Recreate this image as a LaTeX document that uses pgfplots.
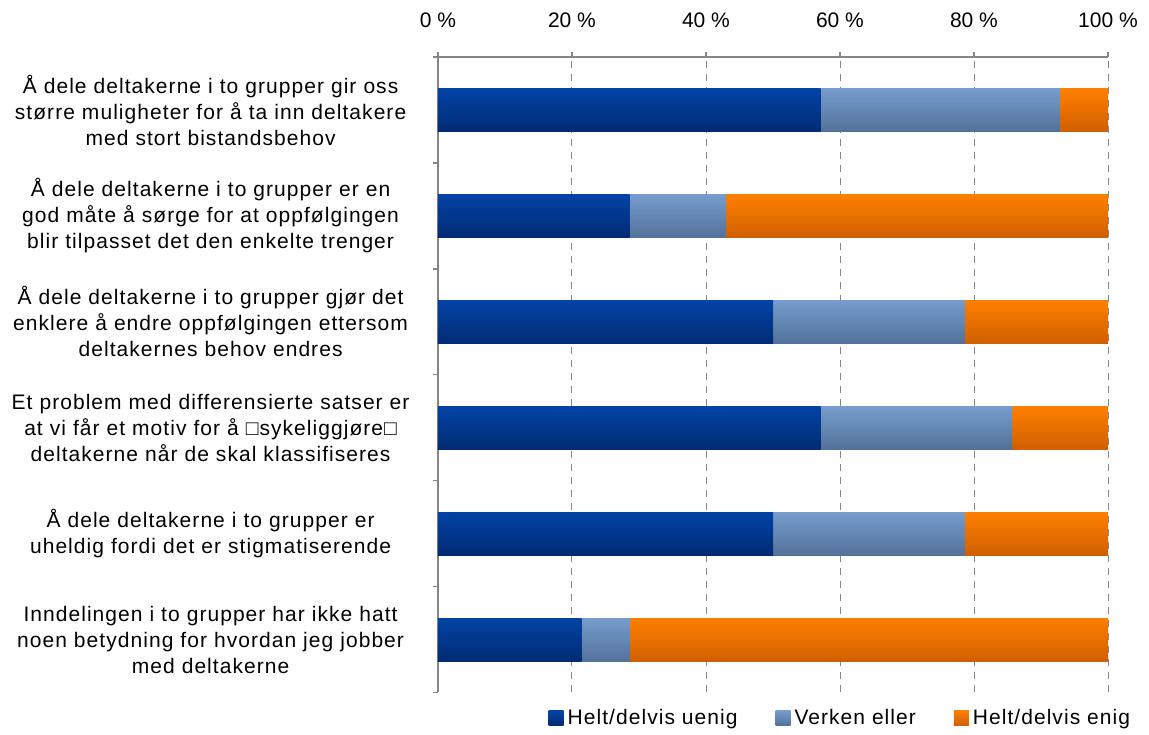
\documentclass[border=0pt]{standalone}
\usepackage{pgfplots}
\pgfplotsset{compat=1.18}
\usepackage{pgfplotstable}
\usepackage{fontspec}
\setmainfont{Liberation Sans}
\newfontfamily\lblfont{Liberation Sans}[LetterSpace=5]

\definecolor{axgray}{HTML}{868686}
\definecolor{dblueT}{HTML}{0343A6}
\definecolor{dblueB}{HTML}{002B73}
\definecolor{lblueT}{HTML}{769DCE}
\definecolor{lblueB}{HTML}{53729A}
\definecolor{orT}{HTML}{FF8000}
\definecolor{orB}{HTML}{CF5F00}

% shares in percent, first question at the top (pos 6)
\pgfplotstableread{
pos uenig verken enig
6 57.1 35.7 7.2
5 28.6 14.3 57.1
4 50.0 28.6 21.4
3 57.1 28.6 14.3
2 50.0 28.6 21.4
1 21.4 7.2 71.4
}\svar

\begin{document}
\begin{tikzpicture}
\begin{axis}[
    scale only axis,
    width=335pt, height=317.75pt,
    xbar, bar width=21.5pt,
    xmin=0, xmax=100, ymin=0.5, ymax=6.5,
    axis x line*=top, axis y line*=left,
    axis line style={axgray, line width=0.75pt},
    tick align=outside,
    major tick length=2.5pt, minor tick length=2.5pt,
    xtick={0,20,...,100},
    xticklabel={\pgfmathprintnumber{\tick} \%},
    /pgf/number format/assume math mode=true,
    xticklabel style={font=\fontsize{10.5}{13}\selectfont, inner sep=0pt, yshift=12pt},
    major x tick style={axgray, line width=0.75pt},
    xmajorgrids,
    major x grid style={axgray, line width=0.5pt, dash pattern=on 3.5pt off 3pt},
    ytick={1,...,6},
    minor ytick={0.5,1.5,...,6.5},
    major y tick style={draw=none},
    minor y tick style={axgray, line width=0.75pt},
    yticklabels={
        {Inndelingen i to grupper har ikke hatt\\noen betydning for hvordan jeg jobber\\med deltakerne},
        {Å dele deltakerne i to grupper er\\uheldig fordi det er stigmatiserende},
        {Et problem med differensierte satser er\\at vi får et motiv for å □sykeliggjøre□\\deltakerne når de skal klassifiseres},
        {Å dele deltakerne i to grupper gjør det\\enklere å endre oppfølgingen ettersom\\deltakernes behov endres},
        {Å dele deltakerne i to grupper er en\\god måte å sørge for at oppfølgingen\\blir tilpasset det den enkelte trenger},
        {Å dele deltakerne i to grupper gir oss\\større muligheter for å ta inn deltakere\\med stort bistandsbehov}
    },
    yticklabel style={font=\lblfont\fontsize{10.5}{13}\selectfont, text width=220pt, align=center, anchor=east, inner sep=0pt, xshift=-1pt},
    legend columns=3,
    legend style={at={(0.602,-0.040)}, anchor=center, draw=none, fill=none,
        font=\lblfont\fontsize{10.5}{13}\selectfont,
        /tikz/every even column/.append style={column sep=17pt}},
    legend image code/.code={\path[#1, draw=none] (0pt,-3.75pt) rectangle (7.5pt,3.75pt);},
]
\addlegendimage{top color=dblueT, bottom color=dblueB}
\addlegendentry{Helt/delvis uenig}
\addlegendimage{top color=lblueT, bottom color=lblueB}
\addlegendentry{Verken eller}
\addlegendimage{top color=orT, bottom color=orB}
\addlegendentry{Helt/delvis enig}
% one bar per plot so that every bar gets its own gradient;
% the segments are laid over each other from 0 (full, then a+b, then a)
\pgfplotsinvokeforeach{0,...,5}{
  \addplot[forget plot, bar shift=0pt, draw=none, top color=orT, bottom color=orB,
    restrict expr to domain={\coordindex}{#1:#1}]
    table[x expr=\thisrow{uenig}+\thisrow{verken}+\thisrow{enig}, y=pos] {\svar};
  \addplot[forget plot, bar shift=0pt, draw=none, top color=lblueT, bottom color=lblueB,
    restrict expr to domain={\coordindex}{#1:#1}]
    table[x expr=\thisrow{uenig}+\thisrow{verken}, y=pos] {\svar};
  \addplot[forget plot, bar shift=0pt, draw=none, top color=dblueT, bottom color=dblueB,
    restrict expr to domain={\coordindex}{#1:#1}]
    table[x=uenig, y=pos] {\svar};
}
\coordinate (sw) at (rel axis cs:0,0);
\coordinate (ne) at (rel axis cs:1,1);
\end{axis}
\pgfresetboundingbox
\path ([shift={(-219pt,-21.25pt)}]sw) rectangle ([shift={(20.5pt,28.5pt)}]ne);
\end{tikzpicture}
\end{document}
